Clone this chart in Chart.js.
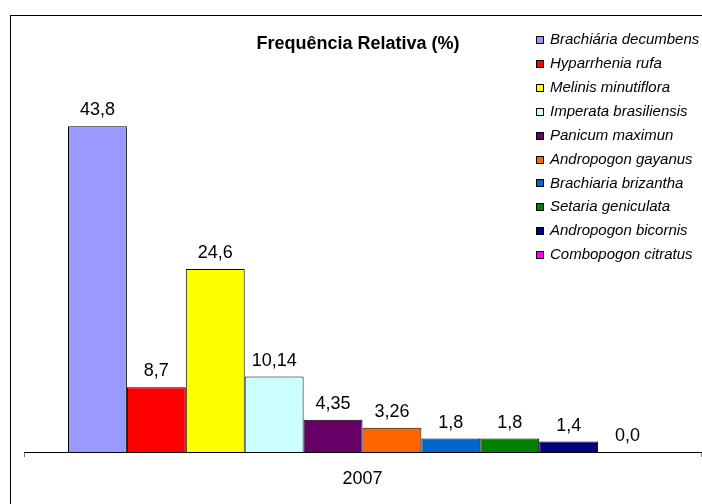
<!DOCTYPE html>
<html>
<head>
<meta charset="utf-8">
<script src="https://cdn.jsdelivr.net/npm/chart.js@4.4.0/dist/chart.umd.min.js"></script>
<style>
  body { margin: 0; background: #fff; }
  #wrap { width: 702px; height: 504px; }
</style>
</head>
<body>
<div id="wrap"><canvas id="grafico" width="702" height="504"></canvas></div>
<script>
// dados do gráfico
const categorias = ['2007'];
const especies = [
    'Brachiária decumbens', 'Hyparrhenia rufa', 'Melinis minutiflora', 'Imperata brasiliensis',
    'Panicum maximun', 'Andropogon gayanus', 'Brachiaria brizantha', 'Setaria geniculata',
    'Andropogon bicornis', 'Combopogon citratus'
];
const frequencias = [43.8, 8.7, 24.6, 10.14, 4.35, 3.26, 1.8, 1.8, 1.4, 0];
const cores = ['#9999FF', '#FF0000', '#FFFF00', '#CCFFFF', '#660066', '#FF6600', '#0066CC', '#008000', '#000080', '#FF00FF'];
const titulo = 'Frequência Relativa (%)';

const fonte = '"Liberation Sans", Arial, sans-serif';

// formata 43.8 -> "43,8", 0 -> "0,0"
const formatar = (v) => {
    let s = String(v);
    if (s.indexOf('.') < 0) s += '.0';
    return s.replace('.', ',');
};

// moldura, título, legenda e rótulos
const extras = {
    id: 'extras',
    beforeDraw(chart) {
        const c = chart.ctx;
        c.save();
        c.fillStyle = '#fff';
        c.fillRect(0, 0, chart.width, chart.height);
        c.strokeStyle = '#000';
        c.lineWidth = 1;
        c.strokeRect(10.5, 15.5, 800, 600);
        c.restore();
    },
    afterDatasetsDraw(chart) {
        const c = chart.ctx;
        c.save();
        // rótulos de valor
        c.font = '18px ' + fonte;
        c.fillStyle = '#000';
        c.textAlign = 'center';
        c.textBaseline = 'alphabetic';
        chart.data.datasets.forEach((ds, i) => {
            const bar = chart.getDatasetMeta(i).data[0];
            c.fillText(formatar(ds.data[0]), bar.x, bar.y - 11);
        });
        // título
        c.font = 'bold 18px ' + fonte;
        c.fillText(titulo, 358, 49);
        // legenda
        c.font = 'italic 15px ' + fonte;
        c.textAlign = 'left';
        c.textBaseline = 'middle';
        chart.data.datasets.forEach((ds, i) => {
            const y = 40 + i * 23.9;
            c.fillStyle = ds.backgroundColor;
            c.fillRect(536, Math.round(y) - 4, 8, 8);
            c.strokeStyle = '#000';
            c.strokeRect(536.5, Math.round(y) - 3.5, 7, 7);
            c.fillStyle = '#000';
            c.fillText(ds.label, 550, y);
        });
        c.restore();
    }
};

const ctx = document.getElementById('grafico').getContext('2d');

const grafico = new Chart(ctx, {
    type: 'bar',
    data: {
        labels: categorias,
        datasets: especies.map((nome, i) => ({
            label: nome,
            data: [frequencias[i]],
            backgroundColor: cores[i],
            borderColor: '#000',
            borderWidth: 1,
            categoryPercentage: 0.87,
            barPercentage: 1.0
        }))
    },
    options: {
        responsive: false,
        animation: false,
        layout: { padding: { top: 80, left: 24, right: 1, bottom: 0 } },
        plugins: {
            legend: { display: false },
            title: { display: false },
            tooltip: { enabled: false }
        },
        scales: {
            x: {
                grid: { display: true, drawOnChartArea: false, drawTicks: true, tickLength: 5, color: '#808080', offset: true },
                border: { display: true, color: '#000', width: 1 },
                ticks: { color: '#000', font: { family: fonte, size: 18 }, padding: 11 },
                afterFit: (scale) => { scale.height = 52; }
            },
            y: {
                display: false,
                min: 0,
                max: 50
            }
        }
    },
    plugins: [extras]
});

console.log(grafico)
</script>
</body>
</html>
